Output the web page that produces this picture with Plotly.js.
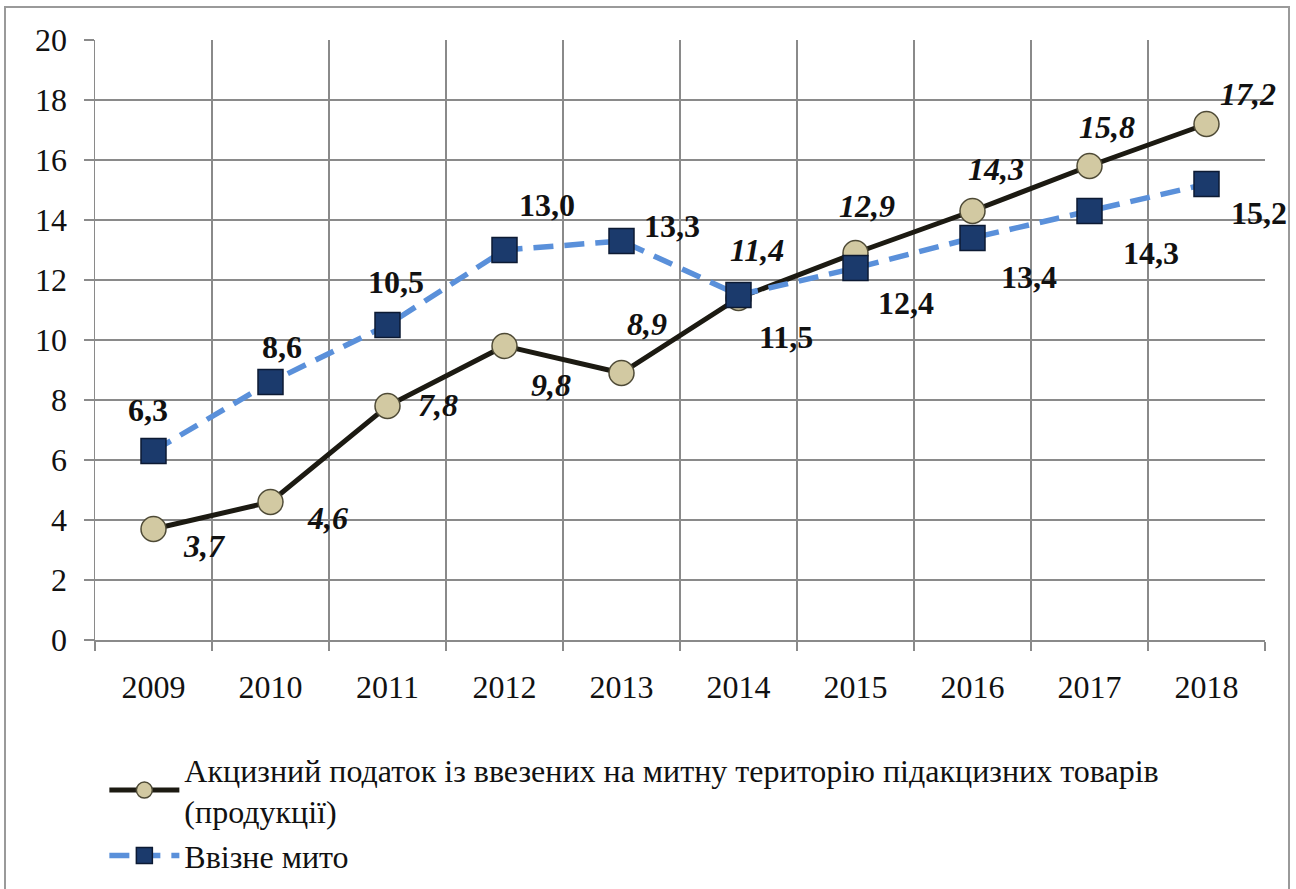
<!DOCTYPE html>
<html>
<head>
<meta charset="utf-8">
<script src="https://cdn.plot.ly/plotly-3.0.1.min.js"></script>
<style>
  body { margin: 0; background: #fff; }
  #wrap { position: relative; width: 1296px; height: 889px; }
  #chart { width: 1296px; height: 889px; }
  #frame { position: absolute; left: 4px; top: 6px; width: 1286px; height: 885px; border: 2px solid #9a9a9a; box-sizing: border-box; pointer-events: none; }
</style>
</head>
<body>
<div id="wrap"><div id="chart"></div><div id="frame"></div></div>
<script>
const years = ["2009","2010","2011","2012","2013","2014","2015","2016","2017","2018"];
const exciseName = "Акцизний податок із ввезених на митну територію підакцизних товарів<br>(продукції)";
const exciseValues = [3.7, 4.6, 7.8, 9.8, 8.9, 11.4, 12.9, 14.3, 15.8, 17.2];
const dutyName = "Ввізне мито";
const dutyValues = [6.3, 8.6, 10.5, 13.0, 13.3, 11.5, 12.4, 13.4, 14.3, 15.2];
const yTicks = [0, 2, 4, 6, 8, 10, 12, 14, 16, 18, 20];

// label offsets in pixels [right, up] relative to each point
const exciseShift = [[51,-17],[57,-16],[50,1],[46,-39],[25,49],[18,48],[11,47],[23,42],[17,39],[41,30]];
const dutyShift = [[-6,41],[11,35],[8,43],[42,45],[50,15],[47,-42],[50,-35],[56,-39],[61,-42],[52,-29]];

const fmt = v => v.toFixed(1).replace(".", ",");
const serif = "'Liberation Serif', 'Times New Roman', Times, 'DejaVu Serif', 'Noto Serif', serif";

const traces = [
  {
    x: years, y: exciseValues, name: exciseName, type: "scatter", mode: "lines+markers",
    line: { color: "#1c1a12", width: 5 },
    marker: { symbol: "circle", size: 25, color: "#d2c9a2", line: { color: "#4e4a36", width: 1.5 } }
  },
  {
    x: years, y: dutyValues, name: dutyName, type: "scatter", mode: "lines+markers",
    line: { color: "#5a90da", width: 5.5, dash: "20px,11px" },
    marker: { symbol: "square", size: 25, color: "#1b3a6c", line: { color: "#0c1a33", width: 1.5 } }
  }
];

const annotations = [];
exciseValues.forEach((v, i) => annotations.push({
  xref: "x", yref: "y", x: i, y: v, text: "<b><i>" + fmt(v) + "</i></b>", showarrow: false,
  xshift: exciseShift[i][0], yshift: exciseShift[i][1],
  font: { family: serif, size: 32, color: "#111" }
}));
dutyValues.forEach((v, i) => annotations.push({
  xref: "x", yref: "y", x: i, y: v, text: "<b>" + fmt(v) + "</b>", showarrow: false,
  xshift: dutyShift[i][0], yshift: dutyShift[i][1],
  font: { family: serif, size: 32, color: "#111" }
}));

const layout = {
  width: 1296, height: 889,
  font: { family: serif, size: 31, color: "#111" },
  margin: { l: 95, r: 31, t: 40, b: 249, autoexpand: false },
  paper_bgcolor: "#fff", plot_bgcolor: "#fff",
  showlegend: true,
  legend: {
    x: 0.008, y: -0.17, xanchor: "left", yanchor: "top",
    font: { family: serif, size: 32, color: "#111" },
    itemwidth: 70, tracegroupgap: 10, bgcolor: "rgba(0,0,0,0)"
  },
  xaxis: {
    type: "category", tickson: "boundaries", ticks: "outside", ticklen: 9,
    tickcolor: "#8a8a8a", tickwidth: 1.5,
    showgrid: true, gridcolor: "#8a8a8a", gridwidth: 1.5,
    showline: true, linecolor: "#8a8a8a", linewidth: 1.5,
    tickfont: { family: serif, size: 32, color: "#111" },
    ticklabelstandoff: 18, automargin: false,
    range: [-0.5, 9.5]
  },
  yaxis: {
    range: [0, 20], tickvals: yTicks, ticks: "outside", ticklen: 10,
    tickcolor: "#8a8a8a", tickwidth: 1.5,
    showgrid: true, gridcolor: "#8a8a8a", gridwidth: 1.5,
    showline: true, linecolor: "#8a8a8a", linewidth: 1.5,
    zeroline: false, automargin: false,
    ticklabelstandoff: 10,
    tickfont: { family: serif, size: 32, color: "#111" }
  },
  annotations: annotations
};

Plotly.newPlot("chart", traces, layout, { displayModeBar: false, staticPlot: true });
</script>
</body>
</html>
